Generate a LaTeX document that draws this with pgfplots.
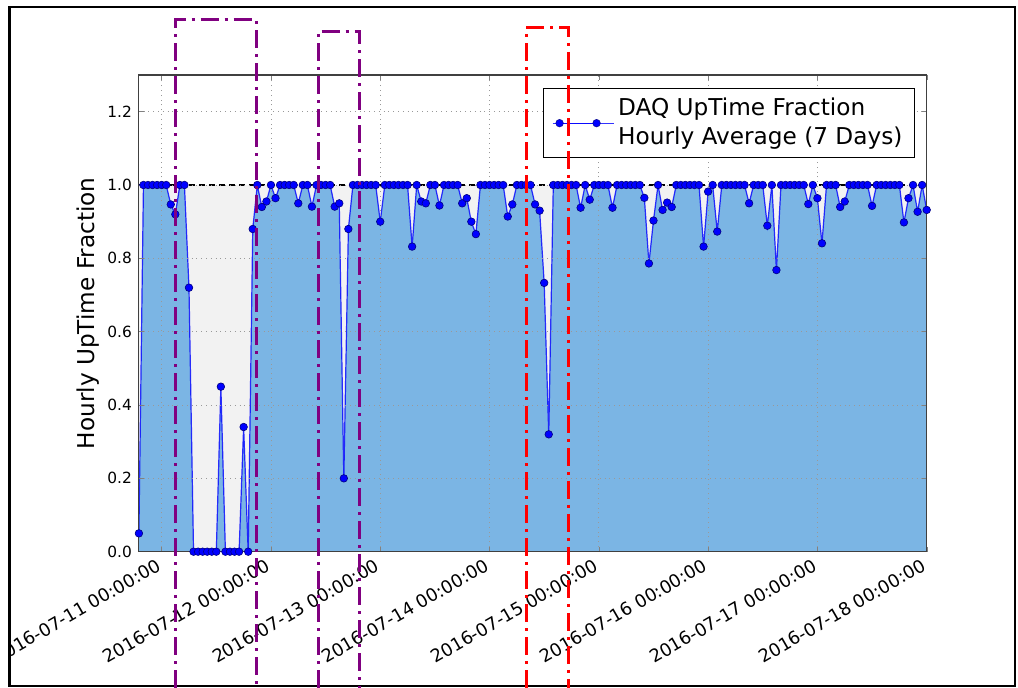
\documentclass[border=0pt]{standalone}
\usepackage{pgfplots}
\usepackage{pgfplotstable}
\pgfplotsset{compat=1.18}
\usepackage{fontspec}
\setmainfont{DejaVu Sans}

\definecolor{upfill}{RGB}{123,181,228}
\definecolor{downfill}{RGB}{242,242,242}
\definecolor{boxpurple}{RGB}{128,0,128}

% hours from 2016-07-11 00:00, hourly uptime fraction
\pgfplotstableread{
x y
-5 0.05
-4 1
-3 1
-2 1
-1 1
0 1
1 1
2 0.947
3 0.92
4 1
5 1
6 0.72
7 0
8 0
9 0
10 0
11 0
12 0
13 0.45
14 0
15 0
16 0
17 0
18 0.34
19 0
20 0.88
21 1
22 0.94
23 0.955
24 1
25 0.964
26 1
27 1
28 1
29 1
30 0.95
31 1
32 1
33 0.941
34 1
35 1
36 1
37 1
38 0.941
39 0.95
40 0.2
41 0.88
42 1
43 1
44 1
45 1
46 1
47 1
48 0.90
49 1
50 1
51 1
52 1
53 1
54 1
55 0.832
56 1
57 0.955
58 0.95
59 1
60 1
61 0.944
62 1
63 1
64 1
65 1
66 0.95
67 0.964
68 0.90
69 0.866
70 1
71 1
72 1
73 1
74 1
75 1
76 0.914
77 0.947
78 1
79 1
80 1
81 1
82 0.947
83 0.93
84 0.733
85 0.32
86 1
87 1
88 1
89 1
90 1
91 1
92 0.938
93 1
94 0.96
95 1
96 1
97 1
98 1
99 0.938
100 1
101 1
102 1
103 1
104 1
105 1
106 0.965
107 0.786
108 0.903
109 1
110 0.932
111 0.952
112 0.94
113 1
114 1
115 1
116 1
117 1
118 1
119 0.832
120 0.982
121 1
122 0.873
123 1
124 1
125 1
126 1
127 1
128 1
129 0.95
130 1
131 1
132 1
133 0.889
134 1
135 0.768
136 1
137 1
138 1
139 1
140 1
141 1
142 0.948
143 1
144 0.964
145 0.841
146 1
147 1
148 1
149 0.94
150 0.955
151 1
152 1
153 1
154 1
155 1
156 0.943
157 1
158 1
159 1
160 1
161 1
162 1
163 0.898
164 0.964
165 1
166 0.927
167 1
168 0.932
}\uptime

\begin{document}
\begin{tikzpicture}
\useasboundingbox (0pt,0pt) rectangle (509pt,344pt);
\begin{axis}[
    at={(69.45pt,68.15pt)}, anchor=south west,
    scale only axis,
    width=393.9pt, height=238.35pt,
    xmin=-5, xmax=168,
    ymin=0, ymax=1.3,
    xtick={0,24,48,72,96,120,144,168},
    xticklabels={2016-07-11 00:00:00,2016-07-12 00:00:00,2016-07-13 00:00:00,2016-07-14 00:00:00,2016-07-15 00:00:00,2016-07-16 00:00:00,2016-07-17 00:00:00,2016-07-18 00:00:00},
    ytick={0,0.2,0.4,0.6,0.8,1.0,1.2},
    yticklabel style={font=\fontsize{7.7}{9}\selectfont,
        /pgf/number format/.cd, fixed, fixed zerofill, precision=1, assume math mode=true},
    xticklabel style={font=\fontsize{8.9}{10}\selectfont, rotate=30, anchor=north east,
        inner sep=1pt, xshift=-3pt},
    ylabel={Hourly UpTime Fraction},
    ylabel style={font=\fontsize{11.6}{13}\selectfont, at={(axis description cs:-0.0646,0.5)}, anchor=center},
    tick align=inside, tick pos=both,
    major tick length=2.5pt,
    grid=major,
    major grid style={dotted, gray!80, line width=0.4pt},
    axis line style={black!75, line width=0.6pt},
    axis on top,
    legend style={at={(axis description cs:0.985,0.973)}, anchor=north east,
        font=\fontsize{11.6}{14.5}\selectfont, draw=black, line width=0.5pt,
        cells={align=left}, inner xsep=4pt, inner ysep=3pt},
    legend image code/.code={
        \path (-3.5pt,0pt) -- (27pt,0pt);
        \draw[blue, line width=0.6pt] (0pt,0pt) -- (18.5pt,0pt);
        \draw[fill=blue, draw=black!50!blue, line width=0.3pt] (0pt,0pt) circle (1.9pt) (18.5pt,0pt) circle (1.9pt);
    },
]
\addplot[fill=downfill, draw=none, forget plot] coordinates {(-5,1) (168,1)} \closedcycle;
\addplot[fill=upfill, draw=none, forget plot] table[x=x, y=y] {\uptime} \closedcycle;
\addplot[black, line width=0.8pt, dash pattern=on 3pt off 2pt, forget plot] coordinates {(-5,1) (168,1)};
\addplot[blue, line width=0.6pt, draw opacity=0.8, mark=*, mark size=1.9pt,
    mark options={fill=blue, draw=black!50!blue, line width=0.3pt, draw opacity=1}] table[x=x, y=y] {\uptime};
\addlegendentry{DAQ UpTime Fraction\\Hourly Average (7 Days)}
\end{axis}
% cropped edge and frame of the original figure
\fill[white] (0pt,0pt) rectangle (4.75pt,344pt);
\draw[black, line width=1.2pt] (4.75pt,1pt) rectangle (507.5pt,340.5pt);
% highlighted periods
\draw[boxpurple, line width=1.5pt, dash pattern=on 9pt off 3pt on 1.5pt off 3pt]
    (87.75pt,0pt) -- (87.75pt,334pt) -- (128pt,334pt) -- (128pt,0pt);
\draw[boxpurple, line width=1.5pt, dash pattern=on 9pt off 3pt on 1.5pt off 3pt]
    (159pt,0pt) -- (159pt,328.25pt) -- (179.75pt,328.25pt) -- (179.75pt,0pt);
\draw[red, line width=1.5pt, dash pattern=on 9pt off 3pt on 1.5pt off 3pt]
    (263pt,0pt) -- (263pt,330pt) -- (284pt,330pt) -- (284pt,0pt);
\end{tikzpicture}
\end{document}
